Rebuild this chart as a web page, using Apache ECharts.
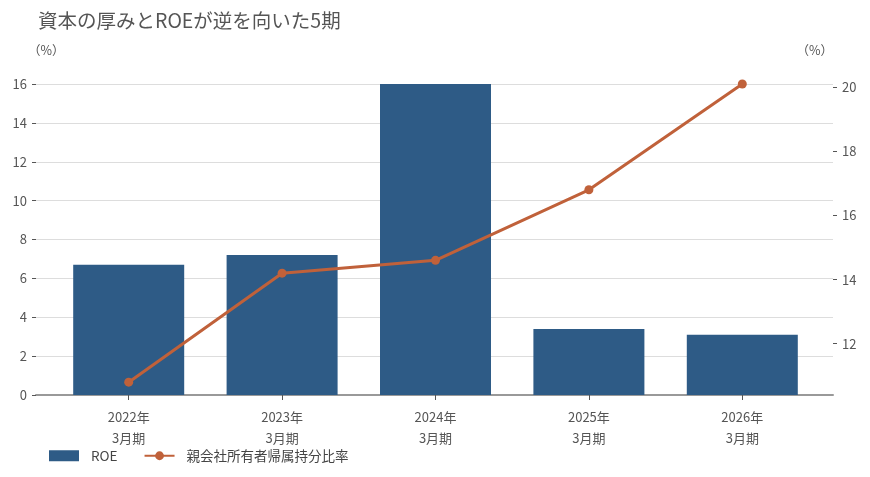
<!DOCTYPE html>
<html>
<head>
<meta charset="utf-8">
<style>
  html, body { margin: 0; padding: 0; background: #fff; }
  #main { width: 870px; height: 477px; }
</style>
<script src="https://cdn.jsdelivr.net/npm/echarts@6/dist/echarts.min.js"></script>
</head>
<body>
<div id="main"></div>
<script>
var categories = ['2022年\n3月期', '2023年\n3月期', '2024年\n3月期', '2025年\n3月期', '2026年\n3月期'];
var roe = [6.7, 7.2, 16.0, 3.4, 3.1];
var equityRatio = [10.8, 14.2, 14.6, 16.8, 20.1];
var rightTicks = [12, 14, 16, 18, 20];

var font = '"Noto Sans CJK JP", "Noto Sans", sans-serif';
var textColor = '#555';

var myChart = echarts.init(document.getElementById('main'));

var option = {
    textStyle: { fontFamily: font },
    title: {
        text: '資本の厚みとROEが逆を向いた5期',
        left: 33,
        top: 6,
        textStyle: { fontSize: 19.5, fontWeight: 'normal', color: '#555', fontFamily: font }
    },
    legend: {
        left: 44,
        top: 444,
        itemWidth: 30,
        itemHeight: 11,
        itemGap: 26,
        textStyle: { fontSize: 13.5, color: '#444', fontFamily: font, padding: [0, 0, 0, 7] },
        data: [
            { name: 'ROE', icon: 'rect' },
            { name: '親会社所有者帰属持分比率' }
        ]
    },
    grid: [
        // grid 0: gridlines, both y axes, baseline
        { left: 36, right: 37, top: 84, bottom: 82 },
        // grid 1: bars and line (categories inset from the gridlines)
        { left: 52, right: 51, top: 84, bottom: 82 }
    ],
    xAxis: [
        {
            gridIndex: 0, type: 'value', min: 0, max: 1,
            axisLine: { show: true, lineStyle: { color: '#999', width: 2 } },
            axisTick: { show: false }, axisLabel: { show: false }, splitLine: { show: false }
        },
        {
            gridIndex: 1, type: 'category', data: categories,
            axisLine: { show: false },
            axisTick: { show: true, alignWithLabel: true, length: 5, lineStyle: { color: '#555' } },
            axisLabel: { color: textColor, fontSize: 13, lineHeight: 21, margin: 12, fontFamily: font }
        }
    ],
    yAxis: [
        {
            gridIndex: 0, type: 'value', min: 0, max: 16, interval: 2,
            name: '（%）', nameLocation: 'end', nameGap: 27,
            nameTextStyle: { color: textColor, fontSize: 12.5, align: 'left', padding: [0, 0, 0, -8] },
            axisLine: { show: false },
            axisTick: { show: true, length: 4, lineStyle: { color: '#555' } },
            axisLabel: { color: textColor, fontSize: 13, margin: 9, fontFamily: font },
            splitLine: { lineStyle: { color: '#ddd', width: 1 } }
        },
        {
            gridIndex: 0, type: 'value', position: 'right', min: 10.4, max: 20.1,
            name: '（%）', nameLocation: 'end', nameGap: 27,
            nameTextStyle: { color: textColor, fontSize: 12.5, align: 'right', padding: [0, 0, 0, 0] },
            axisLine: { show: false },
            axisTick: { show: true, length: 4, customValues: rightTicks, lineStyle: { color: '#555' } },
            axisLabel: { color: textColor, fontSize: 13, margin: 9, customValues: rightTicks, fontFamily: font },
            splitLine: { show: false }
        },
        { gridIndex: 1, type: 'value', min: 0, max: 16, show: false },
        { gridIndex: 1, type: 'value', min: 10.4, max: 20.1, show: false }
    ],
    series: [
        {
            name: 'ROE', type: 'bar',
            xAxisIndex: 1, yAxisIndex: 2,
            barWidth: 111,
            itemStyle: { color: '#2e5b86' },
            data: roe
        },
        {
            name: '親会社所有者帰属持分比率', type: 'line',
            xAxisIndex: 1, yAxisIndex: 3,
            symbol: 'circle', symbolSize: 9,
            lineStyle: { color: '#c0613a', width: 3 },
            itemStyle: { color: '#c0613a' },
            data: equityRatio
        }
    ]
};

myChart.setOption(option);
</script>
</body>
</html>
